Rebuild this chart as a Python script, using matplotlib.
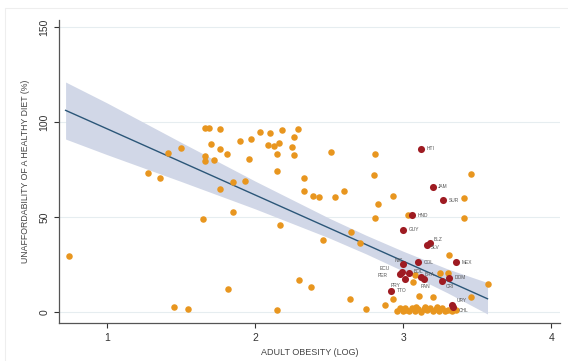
import matplotlib
matplotlib.use("Agg")
import matplotlib.pyplot as plt
import matplotlib.patches as patches
import numpy as np

plt.rcParams['font.family'] = ['Liberation Sans', 'DejaVu Sans']

# other countries (orange)
other_x = [0.74, 1.28, 1.36, 1.41, 1.50, 1.45, 1.55, 1.65, 1.66, 1.69, 1.76, 1.70,
           1.76, 1.66, 1.66, 1.72, 1.81, 1.76, 1.85, 1.85, 1.82, 1.90, 1.97, 2.03,
           1.96, 1.93, 2.10, 2.18, 2.29, 2.26, 2.09, 2.13, 2.16, 2.25, 2.15, 2.26,
           2.51, 2.81, 2.15, 2.33, 2.80, 2.33, 2.39, 2.43, 2.54, 2.60, 2.83, 2.81,
           2.17, 2.46, 2.65, 2.71, 2.30, 2.38, 2.64, 2.15, 2.75, 3.46, 2.93, 3.41,
           3.03, 3.41, 3.31, 3.57, 3.25, 3.30, 3.07, 3.08, 3.20, 3.11, 2.93, 2.88,
           3.46,
           2.96, 2.98, 3.00, 3.02, 3.04, 3.06, 3.08, 3.10, 3.12, 3.14, 3.16, 3.18,
           3.20, 3.22, 3.24, 3.26, 3.28, 3.30, 3.33, 3.36, 3.01, 3.09, 3.15, 3.23]
other_y = [29.6, 73.3, 70.4, 83.9, 86.5, 2.5, 1.6, 48.9, 96.7, 97.0, 96.3, 88.4,
           86.0, 82.1, 79.6, 80.0, 83.2, 64.9, 68.4, 52.8, 11.9, 89.8, 91.1, 94.6,
           80.7, 68.9, 94.0, 95.6, 96.5, 92.3, 87.9, 87.4, 88.8, 86.8, 83.2, 82.6,
           84.4, 83.3, 74.0, 70.5, 71.9, 63.9, 61.1, 60.4, 60.4, 63.7, 56.7, 49.5,
           45.8, 37.9, 41.9, 36.1, 16.8, 13.3, 6.8, 1.1, 1.6, 72.6, 61.2, 60.2,
           51.2, 49.5, 30.0, 14.7, 20.4, 20.4, 16.0, 19.5, 8.1, 8.4, 6.7, 3.7,
           8.1,
           0.6, 1.9, 0.3, 1.2, 0.5, 2.0, 0.8, 1.4, 0.2, 1.7, 0.9, 2.3,
           0.4, 1.5, 0.7, 1.9, 0.3, 1.1, 0.6, 0.9, 2.4, 2.6, 2.8, 2.5]

# Latin America & Caribbean (red, labelled)
lac_code = ['HTI', 'JAM', 'SUR', 'HND', 'GUY', 'BLZ', 'SLV', 'COL', 'MEX', 'NIC',
            'ECU', 'PER', 'BOL', 'BRA', 'PAN', 'PRY', 'DOM', 'CRI', 'TTO', 'URY', 'CHL']
lac_x = [3.12, 3.20, 3.27, 3.06, 3.00, 3.18, 3.16, 3.10, 3.36, 3.00,
         2.99, 2.98, 3.04, 3.12, 3.14, 3.01, 3.31, 3.26, 2.92, 3.33, 3.34]
lac_y = [85.8, 66.0, 58.8, 50.9, 43.2, 36.5, 35.4, 26.3, 26.1, 25.1,
         21.2, 19.8, 20.4, 18.3, 17.2, 17.4, 18.1, 16.5, 11.2, 3.9, 2.5]
# label offsets in points
lac_dx = [4, 4, 4, 4, 4, 3, 3, 4, 4, -6, -16, -16, 3, 3, -2, -10, 4, 3, 4, 3, 4]
lac_dy = [0, 0, 0, 0, 0, 2, -2, 0, 0, 3, 2, -1, 1, 2, -5, -5, 0, -4, 0, 3, -2]

# fitted line with 95% CI
fit_x = [0.72, 1.0, 1.5, 2.0, 2.5, 2.75, 3.0, 3.3, 3.57]
fit_y = [106.1, 96.4, 79.0, 61.6, 44.2, 35.5, 26.8, 16.4, 7.0]
ci_hi = [121.0, 110.0, 89.3, 68.9, 49.4, 40.4, 32.0, 22.7, 15.5]
ci_lo = [91.0, 82.8, 68.7, 54.3, 39.0, 30.6, 21.6, 10.1, -1.0]

fig = plt.figure(figsize=(5.68, 3.61), dpi=100)
ax = fig.add_axes([0.104, 0.105, 0.882, 0.84])

ax.fill_between(fit_x, ci_lo, ci_hi, color='#d1d7e7', lw=0, zorder=1)
ax.plot(fit_x, fit_y, color='#2b5678', lw=1.0, zorder=2)
ax.scatter(other_x, other_y, s=22, color='#e8961f', lw=0, zorder=3)
ax.scatter(lac_x, lac_y, s=26, color='#9e1b22', lw=0, zorder=4)
for c, x, y, dx, dy in zip(lac_code, lac_x, lac_y, lac_dx, lac_dy):
	ax.annotate(c, (x, y), xytext=(dx, dy), textcoords='offset points',
	            fontsize=3.5, color='#555555', va='center', zorder=5)

ax.set_xlim(0.676, 4.06)
ax.set_ylim(-5.8, 153.7)
ax.set_xticks([1, 2, 3, 4])
ax.set_yticks([0, 50, 100, 150])
for t in ax.get_yticklabels():
	t.set_rotation(90)
	t.set_va('center')
ax.tick_params(labelsize=7.5, color='#333333', labelcolor='#333333', length=3.5, width=0.8)
ax.grid(axis='y', color='#e6edf0', lw=0.8)
ax.set_axisbelow(True)
for s in ['top', 'right']:
	ax.spines[s].set_visible(False)
for s in ['left', 'bottom']:
	ax.spines[s].set_color('#555555')
	ax.spines[s].set_linewidth(0.9)

ax.set_xlabel('ADULT OBESITY (LOG)', fontsize=6.5, color='#444444', labelpad=4)
ax.set_ylabel('UNAFFORDABILITY OF A HEALTHY DIET (%)', fontsize=6.3, color='#444444', labelpad=7)

fig.patches.append(patches.Rectangle((0.009, -0.1), 1.2, 1.078, transform=fig.transFigure,
                                     fill=False, edgecolor='#eeeeee', lw=0.8))

fig.savefig('out.png', dpi=100, facecolor='white')
